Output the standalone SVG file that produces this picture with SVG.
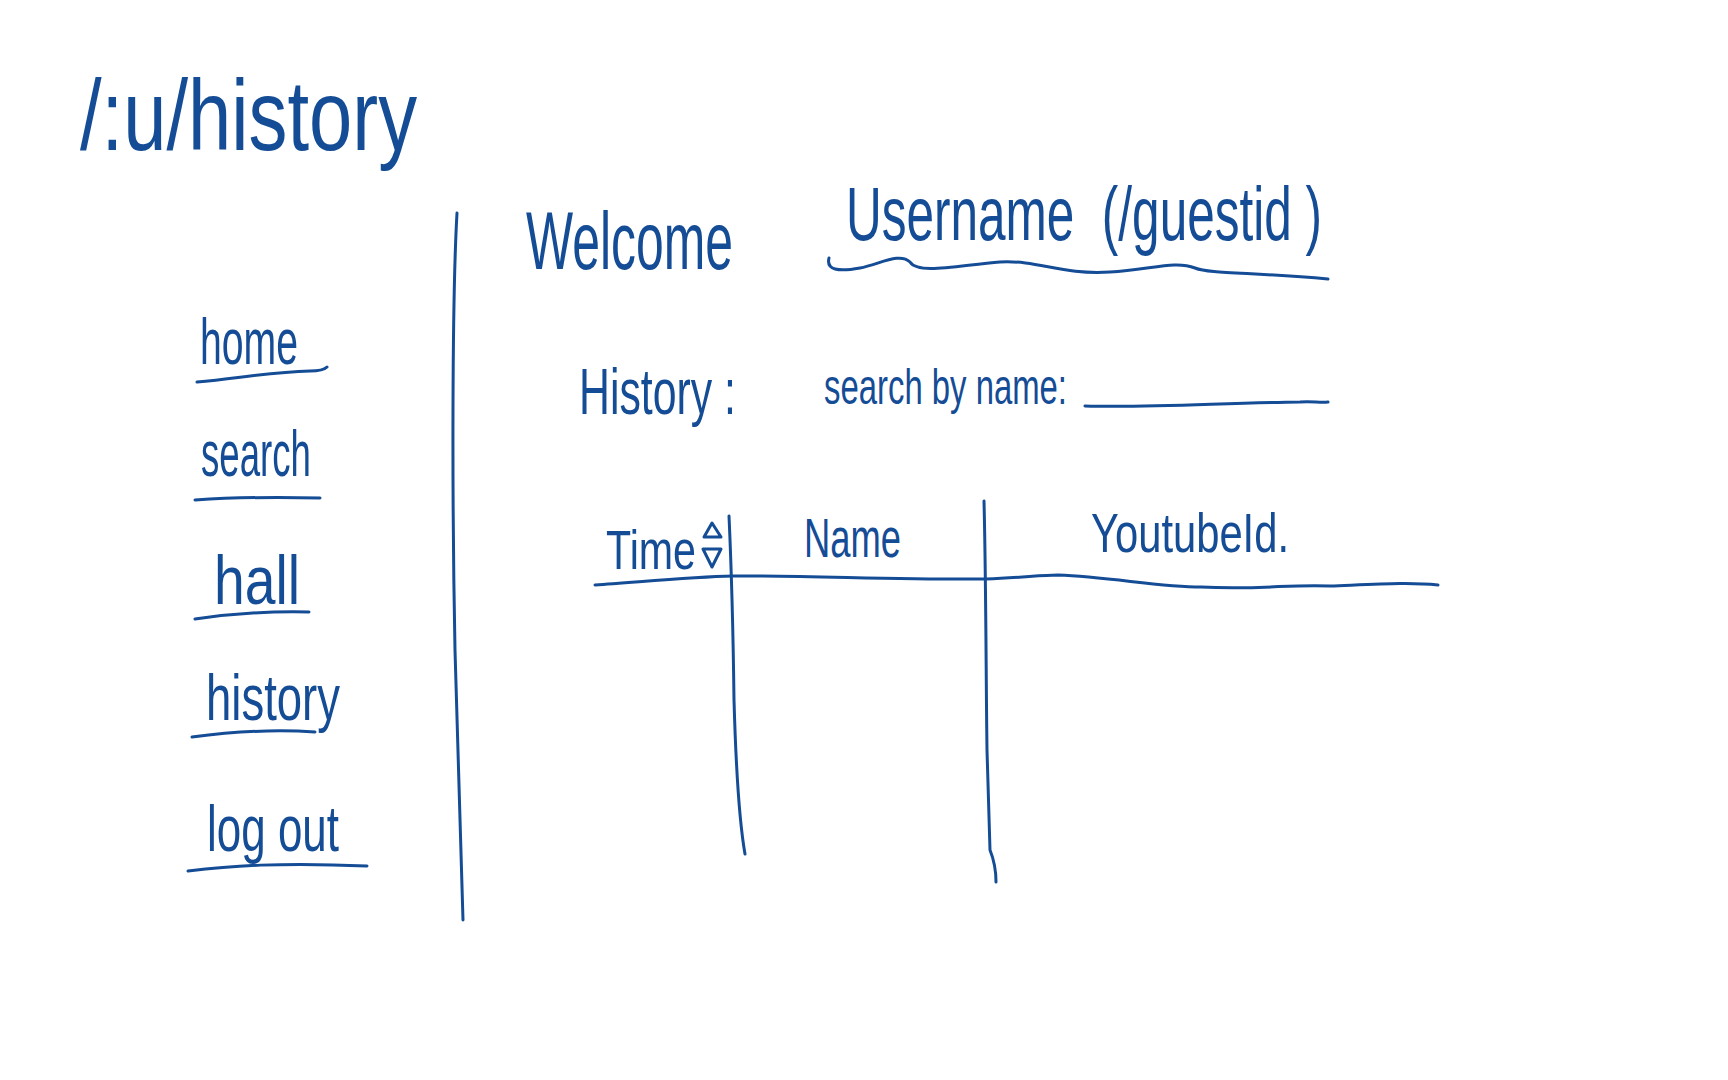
<svg xmlns="http://www.w3.org/2000/svg" width="1728" height="1080" viewBox="0 0 1728 1080">
<style>
.ink{fill:#154c96;font-family:"Liberation Sans","DejaVu Sans",sans-serif;}
.pen{fill:none;stroke:#154c96;stroke-width:3;stroke-linecap:round;stroke-linejoin:round;}
</style>
<rect width="1728" height="1080" fill="#ffffff"/>
<g id="title">
<text class="ink" x="80" y="150" font-size="100" textLength="337" lengthAdjust="spacingAndGlyphs">/:u/history</text>
</g>
<g id="nav-home">
<text class="ink" x="200" y="364" font-size="64" textLength="98" lengthAdjust="spacingAndGlyphs">home</text>
<path class="pen" d="M197,382 C240,378 270,372 310,371 C320,371 325,369 327,367"/>
</g>
<g id="nav-search">
<text class="ink" x="201" y="476" font-size="64" textLength="110" lengthAdjust="spacingAndGlyphs">search</text>
<path class="pen" d="M195,500 C240,497 280,497 320,498"/>
</g>
<g id="nav-hall">
<text class="ink" x="214" y="604" font-size="68" textLength="86" lengthAdjust="spacingAndGlyphs">hall</text>
<path class="pen" d="M195,619 C230,614 270,611 309,612"/>
</g>
<g id="nav-history">
<text class="ink" x="206" y="720" font-size="64" textLength="134" lengthAdjust="spacingAndGlyphs">history</text>
<path class="pen" d="M192,737 C230,732 270,729 315,732"/>
</g>
<g id="nav-logout">
<text class="ink" x="207" y="851" font-size="64" textLength="132" lengthAdjust="spacingAndGlyphs">log out</text>
<path class="pen" d="M188,871 C230,866 280,862 367,866"/>
</g>
<g id="connectors">
<path id="sidebar-divider" class="pen" d="M457,213 C452,300 452,500 455,650 C458,780 462,860 463,920"/>
</g>
<g id="welcome">
<text class="ink" x="526" y="269" font-size="82" textLength="207" lengthAdjust="spacingAndGlyphs">Welcome</text>
<text class="ink" x="846" y="240" font-size="76" textLength="476" lengthAdjust="spacingAndGlyphs">Username&#160; (/guestid )</text>
<path class="pen" d="M829,258 C826,270 838,272 860,268 C880,264 900,252 910,262 C918,275 960,265 1000,262 C1040,260 1060,275 1110,272 C1150,270 1175,260 1195,268 C1210,274 1250,272 1328,279"/>
</g>
<g id="history-label">
<text class="ink" x="579" y="414" font-size="64" textLength="157" lengthAdjust="spacingAndGlyphs">History :</text>
</g>
<g id="search-box">
<text class="ink" x="824" y="404" font-size="50" textLength="243" lengthAdjust="spacingAndGlyphs">search by name:</text>
<path class="pen" d="M1085,406 C1150,408 1220,403 1300,402 C1312,401 1320,403 1328,402"/>
</g>
<g id="history-table">
<text class="ink" x="606" y="569" font-size="56" textLength="90" lengthAdjust="spacingAndGlyphs">Time</text>
<path class="pen" stroke-width="2.5" d="M712,523 L704,537 L721,537 Z"/>
<path class="pen" stroke-width="2.5" d="M703,549 L721,549 L712,567 Z"/>
<text class="ink" x="804" y="557" font-size="56" textLength="97" lengthAdjust="spacingAndGlyphs">Name</text>
<text class="ink" x="1091" y="552" font-size="56" textLength="198" lengthAdjust="spacingAndGlyphs">YoutubeId.</text>
<path class="pen" d="M595,585 C640,582 690,577 733,576 C800,575 900,580 986,579 C1020,578 1040,575 1058,575 C1110,577 1160,587 1201,587 C1260,590 1290,584 1330,586 C1380,584 1410,582 1438,585"/>
<path class="pen" d="M729,516 C731,560 733,620 734,700 C736,770 739,820 745,854"/>
<path class="pen" d="M984,501 C986,580 986,680 987,750 C989,810 990,840 990,850 C994,860 996,870 996,882"/>
</g>
</svg>
